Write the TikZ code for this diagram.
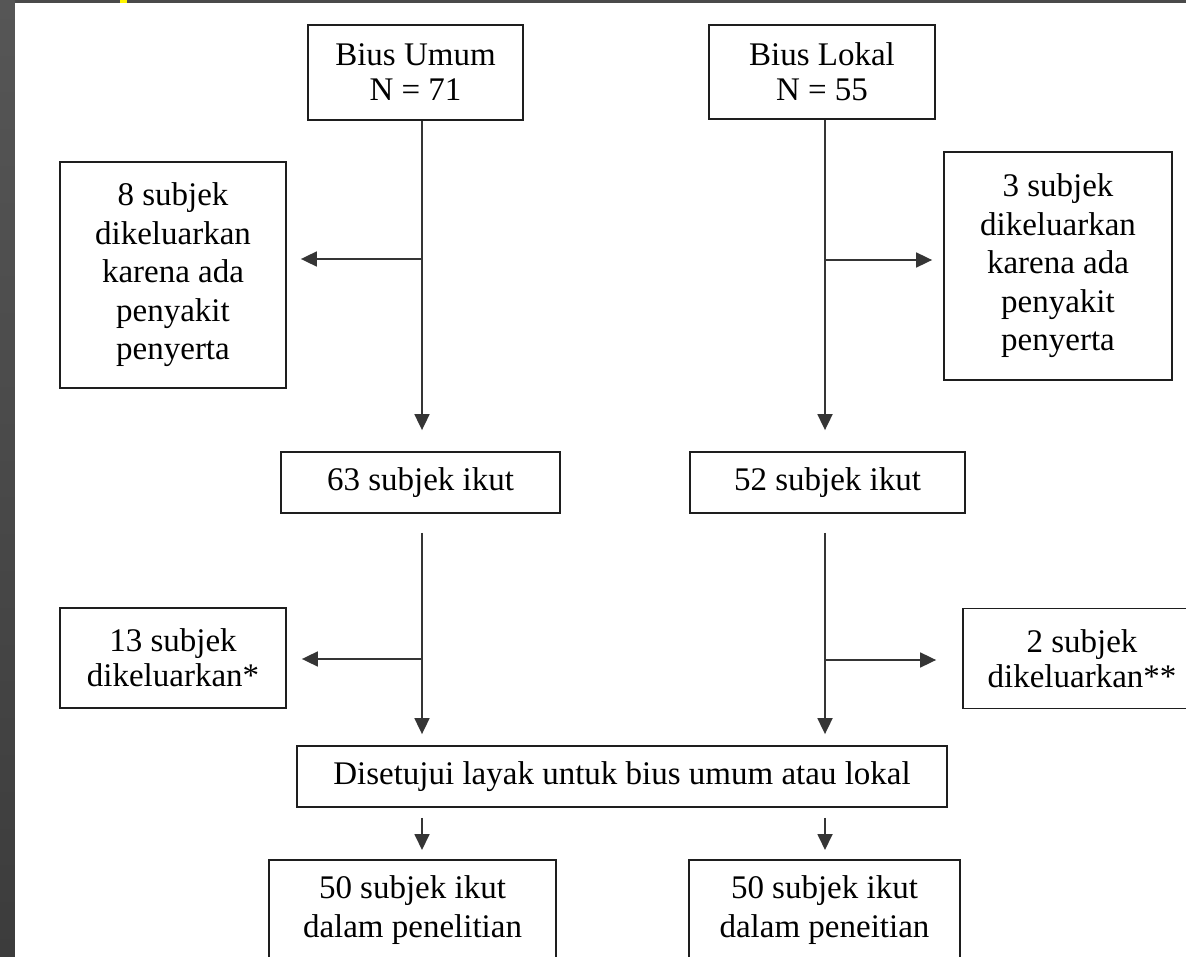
\documentclass[tikz,border=0pt]{standalone}
\usepackage{fontspec}
\setmainfont{Liberation Serif}
\usetikzlibrary{arrows.meta,calc}
\definecolor{stripgray}{RGB}{74,74,74}
\definecolor{striptop}{RGB}{86,86,86}
\definecolor{stripbot}{RGB}{60,60,60}
\definecolor{ink}{RGB}{30,30,30}
\definecolor{markyellow}{RGB}{255,245,0}
\newcommand\fsLoose{\fontsize{33}{38.5}\selectfont}
\newcommand\fsTight{\fontsize{33}{35}\selectfont}
\tikzset{
  box/.style={draw=ink, line width=1.8pt, align=center, inner sep=0pt, font=\fsLoose},
  twoline/.style={box, font=\fsTight},
  conn/.style={draw=ink!90, line width=1.8pt, -{Triangle[length=16pt,width=15pt]}},
}
\begin{document}
\begin{tikzpicture}[x=1pt,y=-1pt]
\clip (0,0) rectangle (1186,957);
\useasboundingbox (0,0) rectangle (1186,957);
% slide background
\fill[stripgray] (0,0) rectangle (1186,957);
\shade[top color=striptop, bottom color=stripbot] (0,0) rectangle (15,957);
\fill[white] (15,3) rectangle (1186,957);
\fill[markyellow] (120,0) rectangle (127,3);

% nodes
\node[twoline, minimum width=215, minimum height=95] (umum) at (415.5,72.5) {Bius Umum\\N = 71};
\node[twoline, minimum width=226, minimum height=94] (lokal) at (822,72) {Bius Lokal\\N = 55};
\node[box, minimum width=226, minimum height=226] (excl1) at (173,275)
  {8 subjek\\dikeluarkan\\karena ada\\penyakit\\penyerta};
\node[box, minimum width=228, minimum height=228] (excl2) at (1058,266)
  {3 subjek\\dikeluarkan\\karena ada\\penyakit\\penyerta};
\node[box, minimum width=279, minimum height=61] (ikut1) at (420.5,482.5) {63 subjek ikut};
\node[box, minimum width=275, minimum height=61] (ikut2) at (827.5,482.5) {52 subjek ikut};
\node[twoline, minimum width=226, minimum height=100] (excl3) at (173,658) {13 subjek\\dikeluarkan*};
\node[twoline, minimum width=238, minimum height=100] (excl4) at (1082,658.5) {2 subjek\\dikeluarkan**};
\node[box, minimum width=650, minimum height=61] (setuju) at (622,776.5)
  {Disetujui layak untuk bius umum atau lokal};
\node[box, anchor=north, minimum width=287, inner ysep=16pt, text depth=110pt] (final1) at (412.5,859)
  {50 subjek ikut\\dalam penelitian};
\node[box, anchor=north, minimum width=271, inner ysep=16pt, text depth=110pt] (final2) at (824.5,859)
  {50 subjek ikut\\dalam peneitian};

% trunk positions and branch points
\coordinate (L) at (422,0);
\coordinate (R) at (825,0);
\coordinate (bl1) at (422,259);
\coordinate (br1) at (825,260);
\coordinate (bl2) at (422,659);
\coordinate (br2) at (825,660);

% connectors
\draw[conn, shorten >=21pt] (umum.south -| L) -- (ikut1.north -| L);
\draw[conn, shorten >=14pt] (bl1) -- (bl1 -| excl1.east);
\draw[conn, shorten >=21pt] (lokal.south -| R) -- (ikut2.north -| R);
\draw[conn, shorten >=11pt] (br1) -- (br1 -| excl2.west);
\draw[conn, shorten <=19pt, shorten >=11pt] (ikut1.south -| L) -- (setuju.north -| L);
\draw[conn, shorten >=15pt] (bl2) -- (bl2 -| excl3.east);
\draw[conn, shorten <=19pt, shorten >=11pt] (ikut2.south -| R) -- (setuju.north -| R);
\draw[conn, shorten >=26pt] (br2) -- (br2 -| excl4.west);
\draw[conn, shorten <=10pt, shorten >=9pt] (setuju.south -| L) -- (final1.north -| L);
\draw[conn, shorten <=10pt, shorten >=9pt] (setuju.south -| R) -- (final2.north -| R);
\end{tikzpicture}
\end{document}
